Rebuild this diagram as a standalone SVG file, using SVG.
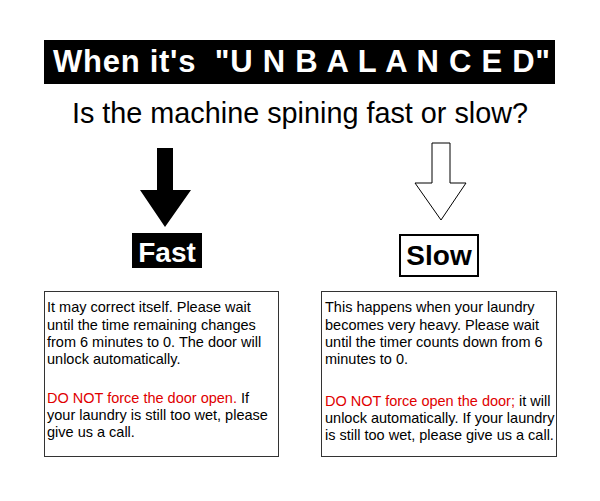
<svg xmlns="http://www.w3.org/2000/svg" width="600" height="501" viewBox="0 0 600 501">
<style>
text{font-family:"Liberation Sans",Arial,sans-serif}
.t{font-size:14.5px;fill:#000}
.r{fill:#e00000}
.b{font-weight:bold}
</style>
<rect width="600" height="501" fill="#fff"/>
<g id="title">
<rect x="44" y="40" width="511" height="44" fill="#000"/>
<text x="53" y="72" class="b" font-size="31" fill="#fff" xml:space="preserve" textLength="497" lengthAdjust="spacing">When it's  "U N B A L A N C E D"</text>
</g>
<g id="question">
<text x="300" y="123" font-size="28.8" text-anchor="middle" fill="#000">Is the machine spining fast or slow?</text>
</g>
<g id="connectors">
<polygon points="157,148 173,148 173,190 191,190 165,227 140,190 157,190" fill="#000"/>
<polygon points="432,143 450,143 450,183 466,183 441,220 415,183 432,183" fill="#fff" stroke="#000" stroke-width="1"/>
</g>
<g id="fast">
<rect x="132" y="233" width="70" height="35" fill="#000"/>
<text x="167" y="262" class="b" font-size="28" fill="#fff" text-anchor="middle">Fast</text>
</g>
<g id="slow">
<rect x="400" y="235" width="78" height="41" fill="#fff" stroke="#000" stroke-width="2"/>
<text x="439" y="265" class="b" font-size="28" fill="#000" text-anchor="middle">Slow</text>
</g>
<g id="fast-text">
<rect x="44.5" y="291.5" width="234" height="165" fill="#fff" stroke="#333" stroke-width="1"/>
<text class="t" x="47" y="312">It may correct itself. Please wait</text>
<text class="t" x="47" y="329.5">until the time remaining changes</text>
<text class="t" x="47" y="347">from 6 minutes to 0. The door will</text>
<text class="t" x="47" y="364">unlock automatically.</text>
<text class="t" x="47" y="403"><tspan class="r">DO NOT force the door open.</tspan> If</text>
<text class="t" x="47" y="420">your laundry is still too wet, please</text>
<text class="t" x="47" y="437">give us a call.</text>
</g>
<g id="slow-text">
<rect x="321.5" y="291.5" width="235" height="165" fill="#fff" stroke="#333" stroke-width="1"/>
<text class="t" x="325" y="312">This happens when your laundry</text>
<text class="t" x="325" y="329.5">becomes very heavy. Please wait</text>
<text class="t" x="325" y="347">until the timer counts down from 6</text>
<text class="t" x="325" y="364">minutes to 0.</text>
<text class="t" x="325" y="406"><tspan class="r">DO NOT force open the door;</tspan> it will</text>
<text class="t" x="325" y="423">unlock automatically. If your laundry</text>
<text class="t" x="325" y="440">is still too wet, please give us a call.</text>
</g>
</svg>
